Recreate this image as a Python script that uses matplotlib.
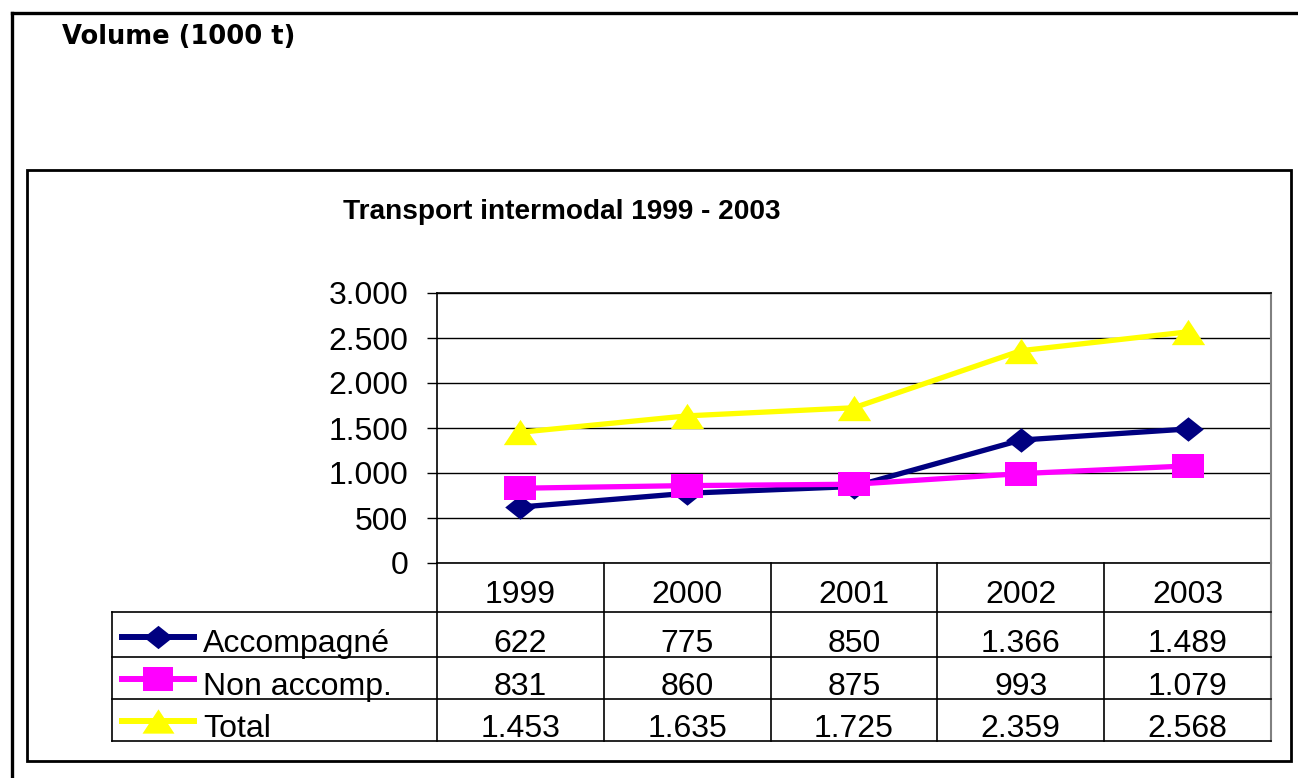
import matplotlib
matplotlib.use("Agg")
import matplotlib.pyplot as plt
from matplotlib.lines import Line2D
from matplotlib.path import Path

plt.rcParams['font.family'] = ['Liberation Sans', 'DejaVu Sans']

# ---- data ----
years = ["1999", "2000", "2001", "2002", "2003"]
series_names = ["Accompagné", "Non accomp.", "Total"]
accompagne = [622, 775, 850, 1366, 1489]
non_accomp = [831, 860, 875, 993, 1079]
total = [1453, 1635, 1725, 2359, 2568]
y_ticks = [0, 500, 1000, 1500, 2000, 2500, 3000]
title = "Transport intermodal 1999 - 2003"
unit_label = "Volume (1000 t)"

def fmt(v):
    return f"{v:,}".replace(",", ".")

W, H = 1298, 778
fig = plt.figure(figsize=(W / 100, H / 100), dpi=100)

def fx(px):
    return px / W

def fy(py):
    return 1 - py / H

FS = 23

# outer frame
fig.add_artist(Line2D([fx(12), fx(12)], [fy(13), fy(790)], color='black', lw=2.4, transform=fig.transFigure))
fig.add_artist(Line2D([fx(12), fx(1310)], [fy(13), fy(13)], color='black', lw=2.4, transform=fig.transFigure))
# inner chart box
fig.add_artist(plt.Rectangle((fx(27), fy(761)), fx(1291) - fx(27), fy(170) - fy(761),
                             fill=False, edgecolor='black', lw=2.0, transform=fig.transFigure))

fig.text(fx(62), fy(37), unit_label, fontsize=18.5, fontweight='bold', va='center', ha='left',
         family=['DejaVu Sans'])
fig.text(fx(562), fy(212), title, fontsize=20.2, fontweight='bold', va='center', ha='center')

# markers
diamond = Path([(-1, 0), (0, -0.8), (1, 0), (0, 0.8), (-1, 0)])
square = Path([(-1, -0.78), (1, -0.78), (1, 0.78), (-1, 0.78), (-1, -0.78)])
triangle = Path([(-1, -0.76), (1, -0.76), (0, 0.76), (-1, -0.76)])

styles = [
    dict(color='#000080', marker=diamond, ms=22),
    dict(color='#FF00FF', marker=square, ms=23),
    dict(color='#FFFF00', marker=triangle, ms=24),
]
values = [accompagne, non_accomp, total]

# main plot axes
L, R, T, B = 437, 1271, 293, 563
ax = fig.add_axes([fx(L), fy(B), fx(R) - fx(L), fy(T) - fy(B)])
xs = [i + 0.5 for i in range(len(years))]
for vals, st in zip(values, styles):
    ax.plot(xs, vals, color=st['color'], lw=3.8, marker=st['marker'], ms=st['ms'],
            markeredgewidth=0, zorder=3, clip_on=False)
ax.set_xlim(0, len(years))
ax.set_ylim(0, 3000)
ax.set_yticks(y_ticks)
ax.set_yticklabels([fmt(v) for v in y_ticks])
ax.set_xticks([])
ax.yaxis.grid(True, color='black', lw=1.0)
ax.set_axisbelow(True)
ax.tick_params(axis='y', length=7.2, width=1.0, pad=13.5, labelsize=FS, color='black')
for s in ['left', 'top', 'bottom']:
    ax.spines[s].set_color('black')
    ax.spines[s].set_linewidth(1.2)
ax.spines['right'].set_color('#808080')
ax.spines['right'].set_linewidth(1.5)

# data table axes (x shares the category scale of the main axes)
TL, TB = 112, 741
ppu = (R - L) / len(years)
tax = fig.add_axes([fx(TL), fy(TB), fx(R) - fx(TL), fy(B) - fy(TB)])
tax.set_xlim(-(L - TL) / ppu, len(years))
tax.set_ylim(TB, B)
tax.axis('off')
xl = -(L - TL) / ppu

def tx(px):
    return (px - L) / ppu

# vertical lines
for i in range(len(years) + 1):
    c = '#808080' if i == len(years) else 'black'
    tax.plot([i, i], [B, TB], color=c, lw=1.2 if i < len(years) else 1.5, clip_on=False)
# horizontal lines
row_lines = [612, 657, 699, 741]
for yl in row_lines:
    tax.plot([xl, len(years)], [yl, yl], color='black', lw=1.2, clip_on=False)
tax.plot([xl, xl], [612, 741], color='black', lw=1.2, clip_on=False)

# year labels
for x, yr in zip(xs, years):
    tax.text(x, 603, yr, ha='center', va='baseline', fontsize=FS)

baselines = [652, 695, 737]
sym_centers = [637, 679, 721]
for name, vals, st, bl, sc in zip(series_names, values, styles, baselines, sym_centers):
    tax.plot([tx(122), tx(194)], [sc, sc], color=st['color'], lw=4.3, clip_on=False)
    tax.plot([tx(158)], [sc], color=st['color'], marker=st['marker'], ms=st['ms'] - 1,
             markeredgewidth=0, clip_on=False)
    tax.text(tx(203), bl, name, ha='left', va='baseline', fontsize=FS)
    for x, v in zip(xs, vals):
        tax.text(x, bl, fmt(v), ha='center', va='baseline', fontsize=FS)

fig.savefig("out.png", dpi=100)
